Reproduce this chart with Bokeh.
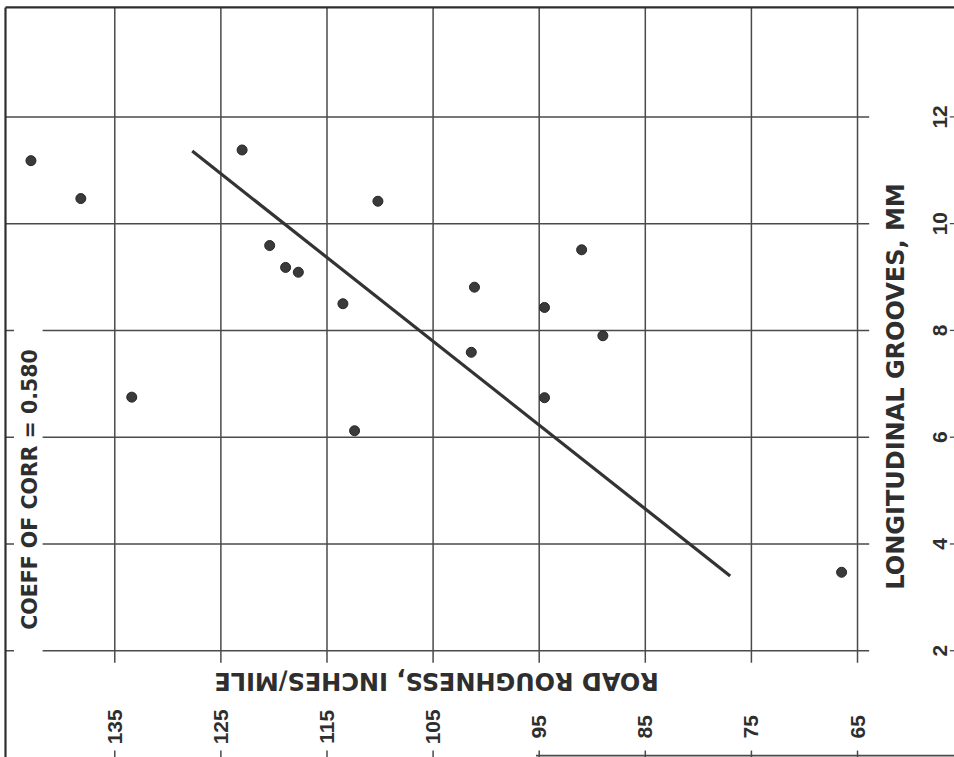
import math
from bokeh.plotting import figure
from bokeh.models import Range1d
from bokeh.core.properties import value
from bokeh.embed import file_html
from bokeh.resources import INLINE

# ---------------- data ----------------
roughness = [142.9, 138.2, 123.0, 120.4, 118.9, 117.7, 113.5, 110.2, 101.1,
             101.4, 94.5, 94.5, 91.0, 89.0, 133.4, 112.4, 66.5]
grooves = [11.18, 10.47, 11.38, 9.59, 9.18, 9.09, 8.50, 10.42, 8.81,
           7.59, 8.43, 6.74, 9.51, 7.90, 6.75, 6.12, 3.47]
fit_roughness = [127.7, 77.0]
fit_grooves = [11.36, 3.40]
roughness_ticks = [135, 125, 115, 105, 95, 85, 75, 65]
grooves_ticks = [2, 4, 6, 8, 10, 12]
x_title = "ROAD ROUGHNESS, INCHES/MILE"
y_title = "LONGITUDINAL GROOVES, MM"
note = "COEFF OF CORR = 0.580"

# ---------------- layout constants ----------------
R_LEFT, R_RIGHT = 145.77, 55.86
G_BOTTOM, G_TOP = 0.0, 14.18
FRAME_R = 145.3
FRAME_G = 14.05
GRID_END_R = 63.9
GRID_END_G = 1.775
INK = "#2e2e2e"
GRID = "#4a4a4a"

p = figure(width=954, height=757, x_range=Range1d(R_LEFT, R_RIGHT),
           y_range=Range1d(G_BOTTOM, G_TOP), output_backend="svg",
           toolbar_location=None, min_border=0,
           x_axis_location=None, y_axis_location=None)
p.grid.visible = False
p.outline_line_color = None
p.background_fill_color = "#ffffff"
p.border_fill_color = "#ffffff"

n_r = len(roughness_ticks)
n_g = len(grooves_ticks)
# vertical grid lines (roughness)
p.segment(x0=roughness_ticks, y0=[FRAME_G] * n_r,
          x1=roughness_ticks, y1=[GRID_END_G] * n_r,
          line_color=GRID, line_width=1.5)
# bottom tick marks
p.segment(x0=roughness_ticks, y0=[0.13] * n_r,
          x1=roughness_ticks, y1=[G_BOTTOM] * n_r,
          line_color=GRID, line_width=1.5)
# horizontal grid lines (grooves)
p.segment(x0=[FRAME_R] * n_g, y0=grooves_ticks,
          x1=[GRID_END_R] * n_g, y1=grooves_ticks,
          line_color=GRID, line_width=1.5)
# small dashes right of the groove labels
p.segment(x0=[56.3] * n_g, y0=grooves_ticks,
          x1=[R_RIGHT] * n_g, y1=grooves_ticks,
          line_color=GRID, line_width=1.3)
# frame: left and top, partial bottom edge
p.segment(x0=[FRAME_R], y0=[FRAME_G], x1=[FRAME_R], y1=[G_BOTTOM],
          line_color=INK, line_width=2.2)
p.segment(x0=[FRAME_R], y0=[FRAME_G], x1=[R_RIGHT], y1=[FRAME_G],
          line_color=INK, line_width=2.2)
p.segment(x0=[95.3], y0=[0.035], x1=[R_RIGHT], y1=[0.035],
          line_color=GRID, line_width=1.8)

# white panel behind the coefficient note
p.quad(left=[144.5], right=[141.8], bottom=[1.89], top=[8.09],
       fill_color="#ffffff", line_color=None)

# regression line and points
p.line(fit_roughness, fit_grooves, line_color="#333333", line_width=3.2)
p.scatter(roughness, grooves, size=10, fill_color="#3a3a3a",
          line_color="#262626", line_width=1)

# texts
p.text(x=[142.95], y=[5.02], text=[note], angle=math.pi / 2,
       text_align="center", text_baseline="middle",
       text_font=value("DejaVu Sans"), text_font_style="bold",
       text_font_size="20.5px", text_color=INK)
p.text(x=[61.42], y=[6.95], text=[y_title], angle=math.pi / 2,
       text_align="center", text_baseline="middle",
       text_font=value("DejaVu Sans"), text_font_style="bold",
       text_font_size="24px", text_color=INK)
p.text(x=[104.68], y=[1.44], text=[x_title], angle=math.pi,
       text_align="center", text_baseline="middle",
       text_font=value("DejaVu Sans"), text_font_style="bold",
       text_font_size="24px", text_color=INK)
p.text(x=roughness_ticks, y=[0.575] * n_r,
       text=[str(t) for t in roughness_ticks], angle=math.pi / 2,
       text_align="center", text_baseline="middle",
       text_font=value("Liberation Sans"), text_font_style="bold",
       text_font_size="21px", text_color=INK)
p.text(x=[57.18] * n_g, y=grooves_ticks,
       text=[str(t) for t in grooves_ticks], angle=math.pi / 2,
       text_align="center", text_baseline="middle",
       text_font=value("Liberation Sans"), text_font_style="bold",
       text_font_size="21px", text_color=INK)

open("out.html", "w").write(file_html(p, INLINE))
